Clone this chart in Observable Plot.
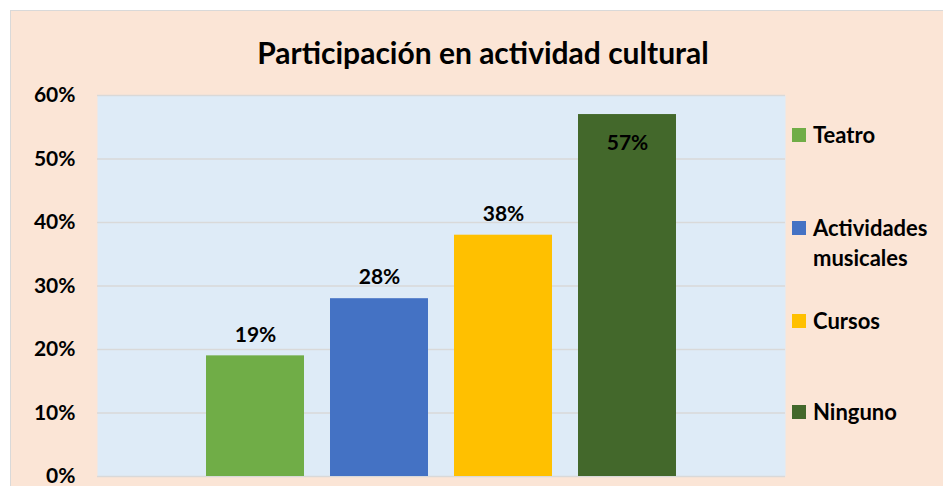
<!DOCTYPE html>
<html>
<head>
<meta charset="utf-8">
<script src="https://cdn.jsdelivr.net/npm/d3@7"></script>
<script src="https://cdn.jsdelivr.net/npm/@observablehq/plot@0.6"></script>
<style>
  html, body { margin: 0; padding: 0; background: #fff; }
  #wrap { position: relative; width: 943px; height: 486px; overflow: hidden; font-family: Lato, "Open Sans", sans-serif; }
  #bg { position: absolute; left: 10px; top: 10px; width: 960px; height: 500px; background: #FBE5D6; border: 1.5px solid #D9D9D9; box-sizing: border-box; }
  #title { position: absolute; left: 0; width: 966px; top: 32px; text-align: center; font-size: 30px; font-weight: 700; color: #000; line-height: 40px; }
  #chart { position: absolute; left: 0; top: 0; }
  .leg { position: absolute; left: 792px; font-size: 22px; font-weight: 700; color: #000; line-height: 30px; }
  .leg .sw { position: absolute; left: 0; width: 14px; height: 14px; }
  .leg .tx { position: absolute; left: 21px; white-space: nowrap; }
</style>
</head>
<body>
<div id="wrap">
  <div id="bg"></div>
  <div id="title">Participación en actividad cultural</div>
  <div id="chart"></div>
  <div id="legend"></div>
</div>
<script>
const categories = ["Teatro", "Actividades musicales", "Cursos", "Ninguno"];
const values = [0.19, 0.28, 0.38, 0.57];
const colors = ["#70AD47", "#4472C4", "#FFC000", "#43682B"];
const yTicks = [0, 0.1, 0.2, 0.3, 0.4, 0.5, 0.6];
const legendLines = [["Teatro"], ["Actividades", "musicales"], ["Cursos"], ["Ninguno"]];

const data = categories.map((c, i) => ({category: c, value: values[i]}));
const pct = d => Math.round(d * 100) + "%";

const chart = Plot.plot({
  width: 943,
  height: 486,
  marginLeft: 97,
  marginRight: 158,
  marginTop: 95,
  marginBottom: 10,
  style: "background: transparent; font-family: Lato, 'Open Sans', sans-serif; font-size: 21px; font-weight: 700; color: #000; overflow: visible;",
  x: {domain: categories, paddingInner: 0.21, paddingOuter: 0.868, axis: null},
  y: {domain: [0, 0.6], axis: null, label: null},
  color: {domain: categories, range: colors},
  marks: [
    Plot.frame({fill: "#DEEBF7", stroke: null}),
    Plot.gridY(yTicks, {stroke: "#D9D9D9", strokeOpacity: 1, strokeWidth: 1.5}),
    Plot.axisY(yTicks, {tickFormat: pct, tickSize: 0, tickPadding: 22, label: null, fontSize: 21, fontWeight: 700, fill: "#000"}),
    Plot.barY(data, {x: "category", y: "value", fill: "category"}),
    Plot.text(data.filter(d => d.value < 0.5), {x: "category", y: "value", text: d => pct(d.value), dy: -21, fontSize: 21, fontWeight: 700, fill: "#000"}),
    Plot.text(data.filter(d => d.value >= 0.5), {x: "category", y: "value", text: d => pct(d.value), dy: 29, fontSize: 21, fontWeight: 700, fill: "#000"})
  ]
});
document.getElementById("chart").appendChild(chart);

// Legend (HTML, to the right of the plot)
const legendTops = [120, 213, 306, 397];
const legend = document.getElementById("legend");
categories.forEach((c, i) => {
  const item = document.createElement("div");
  item.className = "leg";
  item.style.top = legendTops[i] + "px";
  const sw = document.createElement("div");
  sw.className = "sw";
  sw.style.background = colors[i];
  sw.style.top = "8px";
  item.appendChild(sw);
  const tx = document.createElement("div");
  tx.className = "tx";
  tx.innerHTML = legendLines[i].join("<br>");
  item.appendChild(tx);
  legend.appendChild(item);
});
</script>
</body>
</html>
